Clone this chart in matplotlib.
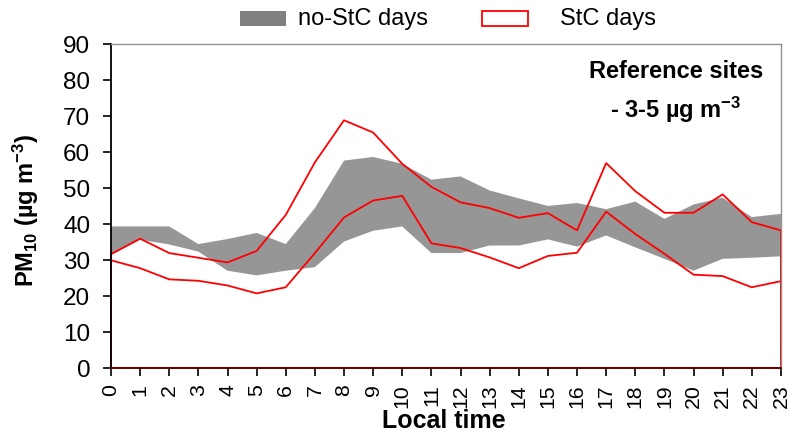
import numpy as np
import matplotlib.pyplot as plt
from matplotlib.patches import Rectangle

plt.rcParams["font.family"] = ["Liberation Sans", "DejaVu Sans"]
plt.rcParams["mathtext.default"] = "regular"

# 数据
hours = list(range(24))
nostc_upper = [39.3, 39.3, 39.3, 34.4, 35.8, 37.5, 34.4, 44.4, 57.6, 58.6, 56.7, 52.3,
               53.2, 49.3, 47.1, 45.0, 45.8, 44.1, 46.2, 41.4, 45.4, 47.3, 41.9, 42.8]
nostc_lower = [31.4, 35.6, 34.3, 32.3, 27.0, 25.7, 27.0, 28.0, 35.1, 38.1, 39.3, 31.9,
               31.9, 34.0, 34.0, 35.7, 33.7, 36.8, 33.5, 30.3, 27.0, 30.3, 30.6, 31.0]
stc_upper = [31.6, 35.9, 31.9, 30.6, 29.3, 32.5, 42.5, 57.1, 68.8, 65.4, 56.7, 50.3,
             46.0, 44.4, 41.7, 43.0, 38.2, 56.9, 49.1, 43.1, 43.1, 48.2, 40.5, 38.2]
stc_lower = [29.9, 27.7, 24.6, 24.2, 22.9, 20.7, 22.4, 31.9, 41.8, 46.5, 47.8, 34.6,
             33.3, 30.7, 27.7, 31.1, 32.0, 43.4, 37.2, 31.7, 25.9, 25.5, 22.4, 24.1]
y_ticks = list(range(0, 91, 10))

fig = plt.figure(figsize=(7.9, 4.35), dpi=100)
ax = fig.add_axes([0.1405, 0.152, 0.848, 0.7446])

# 灰色带：no-StC days
ax.fill_between(hours, nostc_lower, nostc_upper, facecolor="#969696",
                edgecolor="none", linewidth=0)

# 红色轮廓：StC days（Excel 面积图样式，闭合到 0）
ax.fill_between(hours, 0, stc_upper, facecolor="none", edgecolor="red",
                linewidth=1.3, clip_on=False)
ax.plot(hours, stc_lower, color="red", linewidth=1.3)

ax.set_xlim(0, 23)
ax.set_ylim(0, 90)
ax.set_yticks(y_ticks)
ax.set_xticks(hours)
ax.set_xticklabels([str(h) for h in hours], rotation=90, fontsize=15.3)
ax.tick_params(axis="y", labelsize=17.5, length=6, width=1.2, direction="out", pad=9)
ax.tick_params(axis="x", length=6, width=1.2, direction="out", pad=5)

for side in ["top", "right"]:
    ax.spines[side].set_color("#909090")
    ax.spines[side].set_linewidth(1.0)
ax.spines["left"].set_linewidth(1.3)
ax.spines["bottom"].set_linewidth(1.3)
ax.spines["bottom"].set_color("#5a0000")

# 轴标签
fig.text(444 / 790, 1 - 421 / 435, "Local time", fontsize=18,
         fontweight="bold", ha="center", va="center")
fig.text(41 / 790, 0.517, "PM$_{10}$ (µg m$^{-3}$)", rotation=90, fontsize=17,
         fontweight="bold", ha="right", va="center")

# 右上角注释
ax.text(0.843, 0.917, "Reference sites", transform=ax.transAxes, fontsize=17,
        fontweight="bold", ha="center", va="center")
ax.text(0.843, 0.80, "- 3-5 µg m$^{-3}$", transform=ax.transAxes, fontsize=17,
        fontweight="bold", ha="center", va="center")

# 图例（手动放置在顶部）
fig.patches.append(Rectangle((240 / 790, 1 - 27 / 435), 46 / 790, 15 / 435,
                             transform=fig.transFigure, facecolor="#808080",
                             edgecolor="none"))
fig.text(298 / 790, 1 - 19.5 / 435, "no-StC days", fontsize=17,
         ha="left", va="center")
fig.patches.append(Rectangle((482 / 790, 1 - 27 / 435), 46 / 790, 15 / 435,
                             transform=fig.transFigure, facecolor="white",
                             edgecolor="red", linewidth=1.3))
fig.text(560 / 790, 1 - 19.5 / 435, "StC days", fontsize=17,
         ha="left", va="center")

plt.savefig("out.png", dpi=100)
